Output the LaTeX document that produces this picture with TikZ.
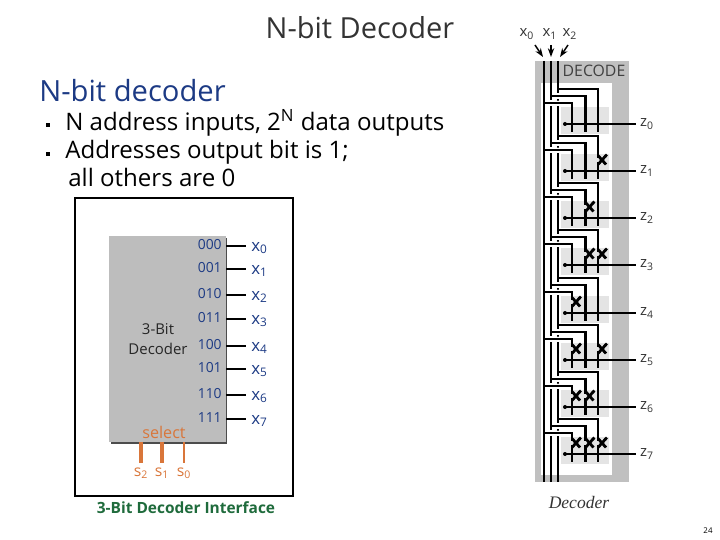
\documentclass[tikz,border=0pt]{standalone}
\usepackage{fontspec}
\setmainfont{Open Sans}
\newfontfamily\serifit{Liberation Serif}
\usetikzlibrary{arrows.meta}
\definecolor{navy}{HTML}{1C3A84}
\definecolor{blockgray}{HTML}{BDBDBD}
\definecolor{framegray}{HTML}{C0C0C0}
\definecolor{cellgray}{HTML}{E4E4E4}
\definecolor{selorange}{HTML}{D9763A}
\definecolor{capgreen}{HTML}{1F6B3C}
\tikzset{
  body/.style={font=\fontsize{13.7}{15}\selectfont,anchor=base west,inner sep=0pt},
  code/.style={font=\fontsize{7.9}{9}\selectfont,text=navy,anchor=east,inner sep=0pt},
  outname/.style={font=\fontsize{9.6}{10}\selectfont,text=navy,anchor=west,inner sep=0pt},
  selname/.style={font=\fontsize{9}{10}\selectfont,text=selorange,inner sep=0pt},
  wire/.style={line width=1.4pt,black},
  zname/.style={font=\fontsize{8.5}{9}\selectfont,text=black!80,inner sep=0pt},
  xmark/.style={line width=1.6pt,black}
}
\begin{document}
\begin{tikzpicture}[x=.02cm,y=-.02cm]
\useasboundingbox (0,0) rectangle (720,540);
\node[font=\fontsize{16.5}{18}\selectfont,text=black!80,inner sep=0pt] (title) at (360,28) {N-bit Decoder};
\node[font=\fontsize{16.6}{18}\selectfont,text=navy,anchor=base west,inner sep=0pt] (head) at (39,102) {N-bit decoder};
\fill (46,123) rectangle (50,127);\fill (46,152) rectangle (50,156);
\node[body] (line1) at (65,131) {N address inputs, 2\textsuperscript{N} data outputs};
\node[body] (line2) at (65,159) {Addresses output bit is 1;};
\node[body] (line3) at (68,187) {all others are 0};
% interface picture
\draw[line width=.9pt] (75,198) rectangle (293,496);
\fill[black!70] (111,238) rectangle (227,444);
\fill[blockgray] (109,236) rectangle (226,442);
\node[font=\fontsize{8.5}{11}\selectfont,align=center,text=black!85,inner sep=0pt] (block) at (158,339) {3-Bit\\Decoder};
\foreach \i/\c/\y in {0/000/246,1/001/269,2/010/295,3/011/319,4/100/346,5/101/369,6/110/395,7/111/419}{
  \coordinate (p\i) at (226,\y);
  \node[code] (c\i) at (222,\y-1) {\c};
  \node[outname] (x\i) at (251,\y+2) {x\textsubscript{\i}};
  \draw[line width=.6pt] (p\i) -- (246,\y);
}
\node[selname,font=\fontsize{9.2}{10}\selectfont] (select) at (164,432) {select};
\foreach \x/\n/\w in {141/2/2,162/1/1.9,184/0/1.3}{
  \coordinate (q\n) at (\x,442);
  \node[selname] (s\n) at (\x,473) {s\textsubscript{\n}};
  \draw[selorange,line width=\w pt] (q\n) -- (\x,463);
}
\node[font=\fontsize{8.8}{10}\selectfont\bfseries,text=capgreen,inner sep=0pt] (caption) at (186,508) {3-Bit Decoder Interface};
% decoder circuit
\fill[framegray] (535,61) rectangle (629,482);
\fill[white] (541,83) rectangle (612,475);
\foreach \x/\n/\l/\s/\e in {544/0/527/535/543,551/1/550/551/551,558/2/570/568/560}{
  \coordinate (top\n) at (\x,61);
  \coordinate (bot\n) at (\x,482);
  \coordinate (tip\n) at (\e,57);
  \node[zname] (in\n) at (\l,34) {x\textsubscript{\n}};
  \draw[wire] (top\n) -- (bot\n);
  \draw[-{Stealth[length=5pt,width=3.6pt]},line width=.8pt] (\s,45) -- (tip\n);
}
\node[font=\fontsize{9}{12}\selectfont,text=black!75,inner sep=0pt] (decode) at (594,71) {DECODE};
\node[font=\serifit\itshape\fontsize{10}{12}\selectfont,text=black!80,inner sep=0pt] (name) at (579,502) {Decoder};
\foreach \k/\z/\ma/\mb/\mc in {0/124/0/0/0,1/171/0/0/1,2/218/0/1/0,3/265/0/1/1,4/313/1/0/0,5/360/1/0/1,6/407/1/1/0,7/454/1/1/1}{
  \fill[cellgray] (561,\z-17) rectangle (609,\z+10);
  \coordinate (dot\k) at (565,\z);
  \node[zname] (z\k) at (647,\z) {z\textsubscript{\k}};
  \draw[wire] (558,\z-35) -- (598,\z-35) -- (598,\z+8);
  \draw[white,line width=3.4pt] (555,\z-28) -- (561,\z-28);
  \draw[wire] (551,\z-28) -- (585.5,\z-28) -- (585.5,\z+8);
  \draw[white,line width=3.4pt] (548,\z-21) -- (561,\z-21);
  \draw[wire] (544,\z-21) -- (572,\z-21) -- (572,\z+8);
  \fill (558,\z-24) circle (1.2);
  \draw[wire] (dot\k) -- (636,\z);
  \fill (dot\k) circle (2);
  \foreach \b/\x in {\ma/572,\mb/585.5,\mc/598}{
    \ifnum\b=1
      \draw[cellgray,line width=2pt] (\x,\z-13) -- (\x,\z-9);
      \draw[xmark] (\x,\z-15.5) -- (\x+8,\z-6.5);
      \draw[xmark] (\x,\z-6.5) -- (\x+8,\z-15.5);
      \fill (\x+8,\z-15.5) circle (1.8);
    \fi
  }
}
\node[font=\fontsize{4.5}{6}\selectfont,inner sep=0pt] (page) at (708,531) {24};
\end{tikzpicture}
\end{document}
